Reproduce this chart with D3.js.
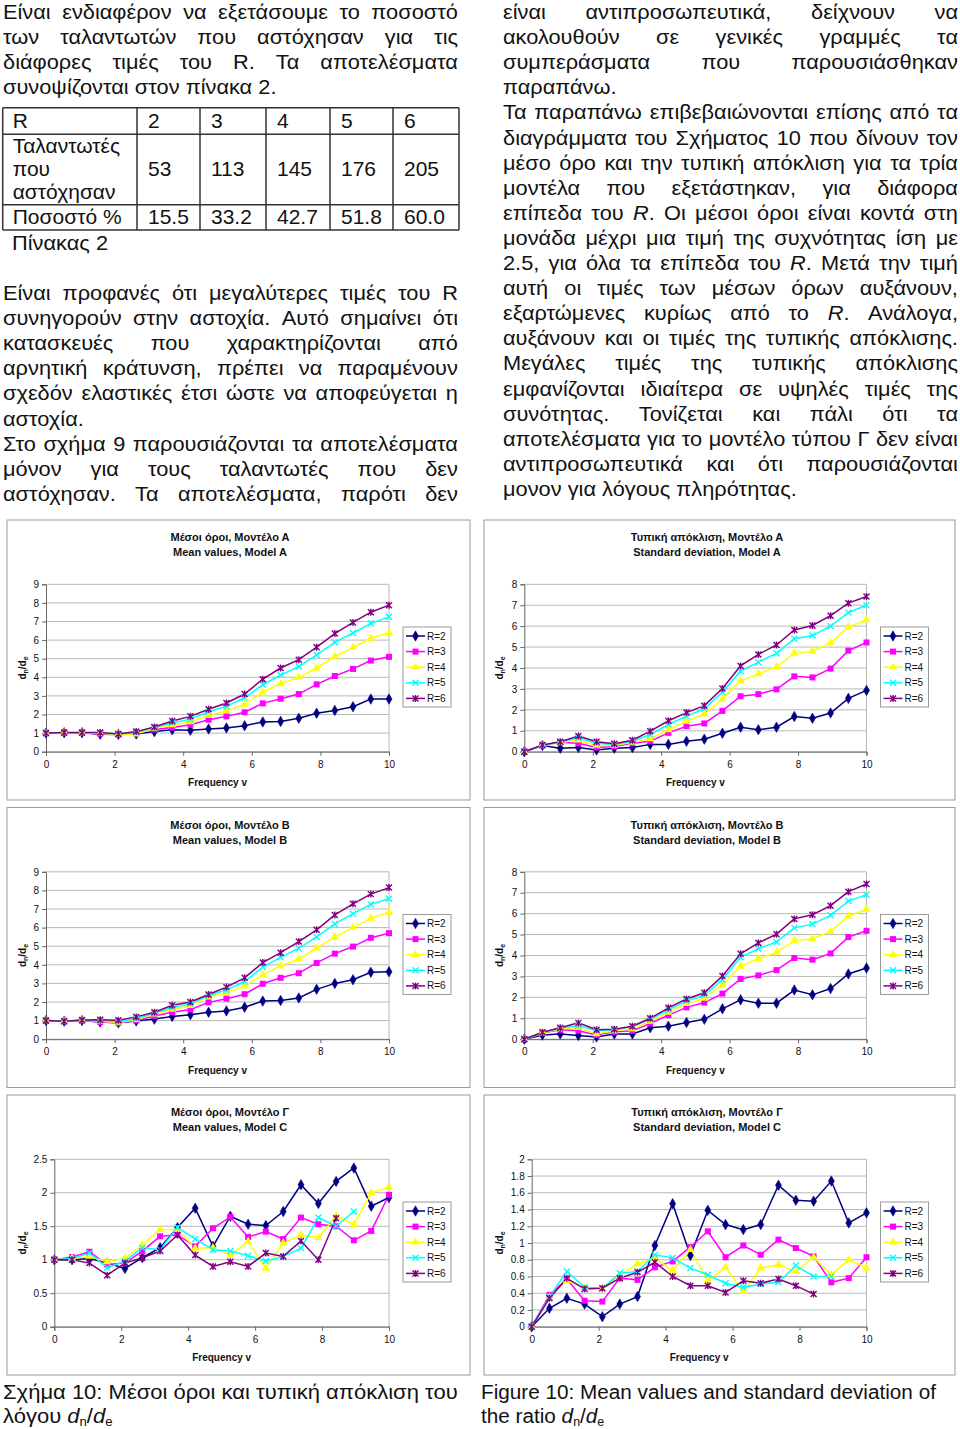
<!DOCTYPE html>
<html><head><meta charset="utf-8">
<script src="https://cdn.jsdelivr.net/npm/d3@7"></script>
<style>
body{margin:0;background:#fff}
svg{display:block;font-family:"Liberation Sans",Arial,sans-serif}
</style></head><body>
<svg id="page" width="960" height="1429"></svg>
<script>
// ---------- DATA ----------
const freq = [0, 0.53, 1.05, 1.58, 2.11, 2.63, 3.16, 3.68, 4.21, 4.74, 5.26, 5.79, 6.32, 6.84, 7.37, 7.89, 8.42, 8.95, 9.47, 10];
const seriesNames = ["R=2", "R=3", "R=4", "R=5", "R=6"];
const seriesColors = ["#000080", "#ff00ff", "#ffff00", "#00ffff", "#800080"];
const seriesMarkers = ["diamond", "square", "triangle", "cross", "star"];

const meanA = [
  [1, 1.02, 1.02, 0.94, 0.93, 0.95, 1.08, 1.18, 1.15, 1.22, 1.28, 1.4, 1.6, 1.63, 1.8, 2.07, 2.22, 2.42, 2.83, 2.83],
  [1, 1.02, 1.02, 0.97, 0.93, 1.0, 1.2, 1.3, 1.45, 1.72, 1.9, 2.12, 2.6, 2.85, 3.1, 3.62, 4.07, 4.45, 4.9, 5.1],
  [1, 1.02, 1.02, 0.98, 0.93, 0.95, 1.25, 1.45, 1.6, 1.95, 2.2, 2.55, 3.2, 3.65, 4.0, 4.5, 5.12, 5.6, 6.1, 6.38],
  [1, 1.02, 1.02, 1.0, 0.95, 1.05, 1.3, 1.55, 1.75, 2.15, 2.45, 2.9, 3.6, 4.12, 4.58, 5.2, 5.88, 6.38, 6.9, 7.25],
  [1, 1.03, 1.03, 1.03, 0.95, 1.08, 1.33, 1.65, 1.9, 2.28, 2.62, 3.1, 3.9, 4.5, 4.95, 5.62, 6.35, 6.95, 7.5, 7.88]
];
const sdA = [
  [0, 0.3, 0.17, 0.2, 0.08, 0.17, 0.2, 0.35, 0.35, 0.5, 0.6, 0.88, 1.17, 1.05, 1.17, 1.68, 1.6, 1.85, 2.55, 2.93],
  [0, 0.3, 0.45, 0.4, 0.2, 0.25, 0.4, 0.5, 0.9, 1.22, 1.35, 1.95, 2.65, 2.75, 2.98, 3.6, 3.55, 3.97, 4.83, 5.22],
  [0, 0.3, 0.45, 0.55, 0.3, 0.3, 0.45, 0.62, 1.05, 1.45, 1.8, 2.5, 3.38, 3.72, 4.05, 4.7, 4.8, 5.2, 5.95, 6.3],
  [0, 0.3, 0.48, 0.65, 0.4, 0.35, 0.5, 0.82, 1.3, 1.7, 2.05, 2.85, 3.85, 4.28, 4.7, 5.4, 5.55, 6.0, 6.65, 7.0],
  [0, 0.32, 0.48, 0.75, 0.48, 0.38, 0.55, 0.98, 1.48, 1.87, 2.2, 3.02, 4.1, 4.65, 5.1, 5.82, 6.03, 6.5, 7.1, 7.42]
];
const meanB = [
  [1, 0.97, 1.0, 0.92, 0.88, 0.98, 1.08, 1.22, 1.32, 1.45, 1.52, 1.72, 2.05, 2.08, 2.22, 2.68, 3.0, 3.2, 3.6, 3.63],
  [1, 0.97, 1.0, 0.93, 0.88, 1.0, 1.25, 1.45, 1.6, 1.98, 2.18, 2.42, 2.98, 3.3, 3.55, 4.1, 4.6, 4.98, 5.45, 5.7],
  [1, 0.97, 1.02, 0.97, 0.9, 1.05, 1.35, 1.6, 1.8, 2.3, 2.5, 2.85, 3.45, 3.95, 4.3, 4.9, 5.5, 6.0, 6.5, 6.82],
  [1, 0.97, 1.02, 1.0, 0.95, 1.1, 1.4, 1.7, 1.9, 2.35, 2.65, 3.1, 3.88, 4.4, 4.88, 5.5, 6.2, 6.75, 7.25, 7.55],
  [1, 0.97, 1.03, 1.05, 1.02, 1.2, 1.45, 1.82, 2.0, 2.4, 2.8, 3.3, 4.12, 4.65, 5.25, 5.88, 6.68, 7.28, 7.8, 8.15]
];
const sdB = [
  [0, 0.2, 0.25, 0.18, 0.1, 0.25, 0.25, 0.55, 0.62, 0.8, 0.95, 1.45, 1.88, 1.72, 1.72, 2.35, 2.12, 2.42, 3.12, 3.4],
  [0, 0.3, 0.45, 0.4, 0.2, 0.35, 0.4, 0.75, 1.15, 1.52, 1.75, 2.18, 2.88, 3.05, 3.3, 3.88, 3.8, 4.1, 4.88, 5.18],
  [0, 0.3, 0.5, 0.55, 0.25, 0.4, 0.5, 0.85, 1.28, 1.7, 1.95, 2.6, 3.48, 3.85, 4.15, 4.7, 4.8, 5.15, 5.88, 6.2],
  [0, 0.32, 0.52, 0.65, 0.4, 0.45, 0.6, 0.95, 1.4, 1.82, 2.1, 2.85, 3.92, 4.32, 4.65, 5.32, 5.5, 5.92, 6.6, 6.9],
  [0, 0.33, 0.55, 0.78, 0.45, 0.48, 0.62, 1.0, 1.5, 1.92, 2.22, 3.02, 4.08, 4.6, 5.02, 5.75, 5.95, 6.38, 7.05, 7.42]
];
const meanC = [
  [1, 1.0, 1.02, 0.95, 0.87, 1.03, 1.18, 1.48, 1.77, 1.2, 1.65, 1.53, 1.51, 1.72, 2.12, 1.84, 2.17, 2.37, 1.8, 1.93],
  [1, 1.04, 1.12, 0.93, 0.95, 1.13, 1.35, 1.37, 1.2, 1.47, 1.64, 1.34, 1.42, 1.31, 1.63, 1.53, 1.5, 1.29, 1.43, 1.97],
  [1, 1.02, 1.05, 0.97, 1.02, 1.22, 1.45, 1.45, 1.17, 1.18, 1.07, 1.27, 0.87, 1.25, 1.37, 1.33, 1.65, 1.53, 2.0, 2.08],
  [1, 1.02, 1.1, 0.88, 0.98, 1.18, 1.15, 1.48, 1.31, 1.15, 1.13, 1.06, 0.98, 1.05, 1.17, 1.63, 1.5, 1.72],
  [1, 1.0, 0.95, 0.77, 0.95, 1.03, 1.13, 1.37, 1.07, 0.9, 0.97, 0.9, 1.1, 1.05, 1.28, 1.0, 1.62]
];
const sdC = [
  [0, 0.22, 0.34, 0.27, 0.12, 0.27, 0.36, 0.97, 1.47, 0.85, 1.39, 1.22, 1.16, 1.22, 1.69, 1.51, 1.5, 1.74, 1.24, 1.36],
  [0, 0.38, 0.57, 0.31, 0.3, 0.58, 0.56, 0.71, 0.78, 0.95, 1.14, 0.83, 0.97, 0.86, 1.04, 0.94, 0.84, 0.53, 0.58, 0.83],
  [0, 0.35, 0.55, 0.47, 0.45, 0.62, 0.75, 0.82, 0.67, 0.92, 0.55, 0.71, 0.42, 0.7, 0.74, 0.66, 0.83, 0.62, 0.8, 0.7],
  [0, 0.36, 0.66, 0.47, 0.46, 0.64, 0.66, 0.86, 0.82, 0.7, 0.62, 0.52, 0.47, 0.51, 0.53, 0.73, 0.6, 0.6],
  [0, 0.34, 0.58, 0.45, 0.46, 0.58, 0.65, 0.77, 0.6, 0.49, 0.49, 0.41, 0.55, 0.52, 0.57, 0.49, 0.39]
];
const xTicks = [0, 2, 4, 6, 8, 10];
const yTicksMean = [0, 1, 2, 3, 4, 5, 6, 7, 8, 9];
const yTicksSd = [0, 1, 2, 3, 4, 5, 6, 7, 8];
const yTicksMeanC = [0, 0.5, 1, 1.5, 2, 2.5];
const yTicksSdC = [0, 0.2, 0.4, 0.6, 0.8, 1, 1.2, 1.4, 1.6, 1.8, 2];

const chartTitles = [
  ["Μέσοι όροι, Μοντέλο Α", "Mean values, Model A"],
  ["Τυπική απόκλιση, Μοντέλο Α", "Standard deviation, Model A"],
  ["Μέσοι όροι, Μοντέλο Β", "Mean values, Model B"],
  ["Τυπική απόκλιση, Μοντέλο Β", "Standard deviation, Model B"],
  ["Μέσοι όροι, Μοντέλο Γ", "Mean values, Model C"],
  ["Τυπική απόκλιση, Μοντέλο Γ", "Standard deviation, Model C"]
];

const tableRowR = ["R", "2", "3", "4", "5", "6"];
const tableRowFailedLabel = ["Ταλαντωτές", "που", "αστόχησαν"];
const tableRowFailed = ["53", "113", "145", "176", "205"];
const tableRowPercent = ["Ποσοστό %", "15.5", "33.2", "42.7", "51.8", "60.0"];

// [text, justified?]  _R_ = italic
const leftTop = [
  ["Είναι ενδιαφέρον να εξετάσουμε το ποσοστό", 1],
  ["των ταλαντωτών που αστόχησαν για τις", 1],
  ["διάφορες τιμές του R. Τα αποτελέσματα", 1],
  ["συνοψίζονται στον πίνακα 2.", 0]
];
const leftBottom = [
  ["Είναι προφανές ότι μεγαλύτερες τιμές του R", 1],
  ["συνηγορούν στην αστοχία. Αυτό σημαίνει ότι", 1],
  ["κατασκευές που χαρακτηρίζονται από", 1],
  ["αρνητική κράτυνση, πρέπει να παραμένουν", 1],
  ["σχεδόν ελαστικές έτσι ώστε να αποφεύγεται η", 1],
  ["αστοχία.", 0],
  ["Στο σχήμα 9 παρουσιάζονται τα αποτελέσματα", 1],
  ["μόνον για τους ταλαντωτές που δεν", 1],
  ["αστόχησαν. Τα αποτελέσματα, παρότι δεν", 1]
];
const rightText = [
  ["είναι αντιπροσωπευτικά, δείχνουν να", 1],
  ["ακολουθούν σε γενικές γραμμές τα", 1],
  ["συμπεράσματα που παρουσιάσθηκαν", 1],
  ["παραπάνω.", 0],
  ["Τα παραπάνω επιβεβαιώνονται επίσης από τα", 1],
  ["διαγράμματα του Σχήματος 10 που δίνουν τον", 1],
  ["μέσο όρο και την τυπική απόκλιση για τα τρία", 1],
  ["μοντέλα που εξετάστηκαν, για διάφορα", 1],
  ["επίπεδα του _R_. Οι μέσοι όροι είναι κοντά στη", 1],
  ["μονάδα μέχρι μια τιμή της συχνότητας ίση με", 1],
  ["2.5, για όλα τα επίπεδα του _R_. Μετά την τιμή", 1],
  ["αυτή οι τιμές των μέσων όρων αυξάνουν,", 1],
  ["εξαρτώμενες κυρίως από το _R_. Ανάλογα,", 1],
  ["αυξάνουν και οι τιμές της τυπικής απόκλισης.", 1],
  ["Μεγάλες τιμές της τυπικής απόκλισης", 1],
  ["εμφανίζονται ιδιαίτερα σε υψηλές τιμές της", 1],
  ["συνότητας. Τονίζεται και πάλι ότι τα", 1],
  ["αποτελέσματα για το μοντέλο τύπου Γ δεν είναι", 1],
  ["αντιπροσωπευτικά και ότι παρουσιάζονται", 1],
  ["μονον για λόγους πληρότητας.", 0]
];

// ---------- DRAW ----------
const svg = d3.select("#page");
svg.append("rect").attr("width", 960).attr("height", 1429).attr("fill", "#fff");
const FS = 20;
const SX = 1.09;     // horizontal stretch of the scanned body text
const SXT = 1.05;    // table text stretch
const TXT = "#111";

function addSegments(t, word) {
  const parts = word.split(/(_[^_]+_)/).filter(p => p.length);
  parts.forEach(p => {
    if (p.startsWith("_")) t.append("tspan").attr("font-style", "italic").text(p.slice(1, -1));
    else t.append("tspan").text(p);
  });
}
function drawLine(x, baseline, width, text, justify, sx) {
  sx = sx || SX;
  const g = svg.append("g");
  const words = text.split(" ");
  const nodes = words.map(w => {
    const t = g.append("text").attr("font-size", FS).attr("fill", TXT);
    addSegments(t, w);
    return t;
  });
  const widths = nodes.map(n => n.node().getComputedTextLength() * sx);
  const total = d3.sum(widths);
  const gap = (justify && words.length > 1) ? (width - total) / (words.length - 1) : FS * 0.278 * sx;
  let cx = x;
  nodes.forEach((n, i) => { n.attr("transform", `translate(${cx},${baseline}) scale(${sx},1)`); cx += widths[i] + gap; });
}
const LH = 25.1;
leftTop.forEach((l, i) => drawLine(3, 19 + i * LH, 455, l[0], l[1]));
leftBottom.forEach((l, i) => drawLine(3, 300 + i * LH, 455, l[0], l[1]));
rightText.forEach((l, i) => drawLine(503, 19 + i * LH, 455, l[0], l[1]));
drawLine(12, 250, 200, "Πίνακας 2", 0);

// table
const colX = [2.7, 137, 200, 266, 330, 393, 459];
const rowY = [107.7, 134.3, 204.7, 230];
const tg = svg.append("g");
colX.forEach(x => tg.append("line").attr("x1", x).attr("x2", x).attr("y1", rowY[0]).attr("y2", rowY[3]).attr("stroke", "#333").attr("stroke-width", 1.5));
rowY.forEach(y => tg.append("line").attr("x1", colX[0]).attr("x2", colX[6]).attr("y1", y).attr("y2", y).attr("stroke", "#333").attr("stroke-width", 1.5));
function cell(x, y, s) {
  tg.append("text").attr("transform", `translate(${x},${y}) scale(${SXT},1)`).attr("font-size", FS).attr("fill", TXT).text(s);
}
tableRowR.forEach((s, i) => cell(colX[i] + (i ? 11 : 10), 128, s));
tableRowFailedLabel.forEach((s, i) => cell(colX[0] + 10, 153 + i * 23, s));
tableRowFailed.forEach((s, i) => cell(colX[i + 1] + 11, 176, s));
tableRowPercent.forEach((s, i) => cell(colX[i] + (i ? 11 : 10), 224, s));

// charts
function marker(g, type, color, x, y) {
  if (type === "diamond") {
    g.append("path").attr("d", d3.symbol(d3.symbolDiamond, 32)()).attr("transform", `translate(${x},${y})`).attr("fill", color).attr("stroke", color).attr("stroke-width", 0.5);
  } else if (type === "square") {
    g.append("rect").attr("x", x - 3).attr("y", y - 3).attr("width", 6).attr("height", 6).attr("fill", color);
  } else if (type === "triangle") {
    g.append("path").attr("d", d3.symbol(d3.symbolTriangle, 30)()).attr("transform", `translate(${x},${y})`).attr("fill", color);
  } else if (type === "cross") {
    g.append("path").attr("d", `M${x - 3},${y - 3}L${x + 3},${y + 3}M${x - 3},${y + 3}L${x + 3},${y - 3}`).attr("stroke", color).attr("stroke-width", 1.4);
  } else {
    g.append("path").attr("d", `M${x - 3},${y - 3}L${x + 3},${y + 3}M${x - 3},${y + 3}L${x + 3},${y - 3}M${x},${y - 3.5}L${x},${y + 3.5}`).attr("stroke", color).attr("stroke-width", 1.4);
  }
}

const charts = [
  { col: 0, row: 0, data: meanA, ticks: yTicksMean, fmt: d3.format("d"), left: 46 },
  { col: 1, row: 0, data: sdA, ticks: yTicksSd, fmt: d3.format("d"), left: 524.3 },
  { col: 0, row: 1, data: meanB, ticks: yTicksMean, fmt: d3.format("d"), left: 46 },
  { col: 1, row: 1, data: sdB, ticks: yTicksSd, fmt: d3.format("d"), left: 524.3 },
  { col: 0, row: 2, data: meanC, ticks: yTicksMeanC, fmt: d => String(d), left: 54.3 },
  { col: 1, row: 2, data: sdC, ticks: yTicksSdC, fmt: d => String(d), left: 531.7 }
];
const boxX = [7, 484], boxW = [463, 471], boxY = [520, 807.5, 1095], boxH = 280;
const plotRight = [389, 866.5];

charts.forEach((c, ci) => {
  const bx = boxX[c.col], by = boxY[c.row];
  const g = svg.append("g");
  g.append("rect").attr("x", bx).attr("y", by).attr("width", boxW[c.col]).attr("height", boxH)
    .attr("fill", "#fff").attr("stroke", "#9a9a9a").attr("stroke-width", 1);
  const top = by + 64.3, bottom = by + 231.7;
  const x = d3.scaleLinear().domain([0, 10]).range([c.left, plotRight[c.col]]);
  const y = d3.scaleLinear().domain([0, d3.max(c.ticks)]).range([bottom, top]);
  const tcx = bx + 223;
  g.append("text").attr("x", tcx).attr("y", by + 21).attr("text-anchor", "middle").attr("font-size", 11).attr("font-weight", "bold").attr("fill", TXT).text(chartTitles[ci][0]);
  g.append("text").attr("x", tcx).attr("y", by + 36).attr("text-anchor", "middle").attr("font-size", 11).attr("font-weight", "bold").attr("fill", TXT).text(chartTitles[ci][1]);
  c.ticks.forEach(t => g.append("line").attr("x1", x(0)).attr("x2", x(10)).attr("y1", y(t)).attr("y2", y(t)).attr("stroke", "#b8b8b8").attr("stroke-width", 1));
  g.append("line").attr("x1", x(10)).attr("x2", x(10)).attr("y1", top).attr("y2", bottom).attr("stroke", "#b8b8b8");
  const ya = g.append("g").attr("transform", `translate(${x(0)},0)`).call(d3.axisLeft(y).tickValues(c.ticks).tickFormat(c.fmt).tickSize(4).tickPadding(3));
  const xa = g.append("g").attr("transform", `translate(0,${y(0)})`).call(d3.axisBottom(x).tickValues(xTicks).tickFormat(d3.format("d")).tickSize(4).tickPadding(5));
  [ya, xa].forEach(a => {
    a.selectAll("path,line").attr("stroke", "#666");
    a.selectAll("text").attr("font-size", 10).attr("fill", TXT).attr("font-family", "Liberation Sans, Arial, sans-serif");
  });
  g.append("text").attr("x", (x(0) + x(10)) / 2).attr("y", by + 266).attr("text-anchor", "middle").attr("font-size", 10).attr("font-weight", "bold").attr("fill", TXT).text("Frequency v");
  const yl = g.append("text").attr("transform", `translate(${bx + 19},${(top + bottom) / 2}) rotate(-90)`).attr("text-anchor", "middle").attr("font-size", 10).attr("font-weight", "bold").attr("fill", TXT);
  yl.append("tspan").text("d");
  yl.append("tspan").attr("font-size", 7).attr("dy", 2).text("n");
  yl.append("tspan").attr("dy", -2).text("/d");
  yl.append("tspan").attr("font-size", 7).attr("dy", 2).text("e");
  const line = d3.line().x((d, i) => x(freq[i])).y(d => y(d));
  c.data.forEach((s, si) => {
    g.append("path").attr("d", line(s)).attr("fill", "none").attr("stroke", seriesColors[si]).attr("stroke-width", 1.5);
  });
  c.data.forEach((s, si) => {
    s.forEach((v, i) => marker(g, seriesMarkers[si], seriesColors[si], x(freq[i]), y(v)));
  });
  const lx = plotRight[c.col] + 14, ly = by + 107;
  g.append("rect").attr("x", lx).attr("y", ly).attr("width", 48).attr("height", 80).attr("fill", "#fff").attr("stroke", "#9a9a9a");
  seriesNames.forEach((n, si) => {
    const yy = ly + 9 + si * 15.6;
    g.append("line").attr("x1", lx + 3).attr("x2", lx + 22).attr("y1", yy).attr("y2", yy).attr("stroke", seriesColors[si]).attr("stroke-width", 1.5);
    marker(g, seriesMarkers[si], seriesColors[si], lx + 12.5, yy);
    g.append("text").attr("x", lx + 24).attr("y", yy + 3.5).attr("font-size", 10).attr("fill", TXT).text(n);
  });
});

// captions (condensed)
function caption(x, y1, y2, line1, line2parts, targetW) {
  const g = svg.append("g");
  const t1 = g.append("text").attr("x", 0).attr("y", 0).attr("font-size", FS).attr("fill", TXT).text(line1);
  const w = t1.node().getComputedTextLength();
  const sx = targetW / w;
  t1.attr("transform", `translate(${x},${y1}) scale(${sx},1)`);
  const t2 = g.append("text").attr("transform", `translate(${x},${y2}) scale(${sx},1)`).attr("font-size", FS).attr("fill", TXT);
  t2.append("tspan").text(line2parts);
  t2.append("tspan").attr("font-style", "italic").text("d");
  t2.append("tspan").attr("font-size", 12).attr("dy", 3).text("n");
  t2.append("tspan").attr("dy", -3).text("/");
  t2.append("tspan").attr("font-style", "italic").text("d");
  t2.append("tspan").attr("font-size", 12).attr("dy", 3).text("e");
}
caption(3, 1399, 1423, "Σχήμα 10: Μέσοι όροι και τυπική απόκλιση του", "λόγου ", 455);
caption(481, 1399, 1423, "Figure 10: Mean values and standard deviation of", "the ratio ", 455);
</script>
</body></html>
